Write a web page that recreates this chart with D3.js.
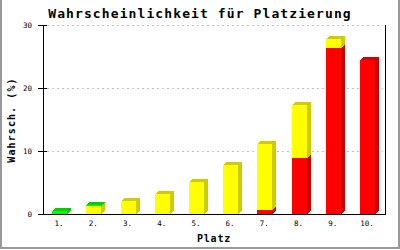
<!DOCTYPE html>
<html>
<head>
<meta charset="utf-8">
<script src="https://cdn.jsdelivr.net/npm/d3@7"></script>
<style>
  body { margin: 0; background: #fff; }
  svg { display: block; }
</style>
</head>
<body>
<script>
// data
var places = ['1.', '2.', '3.', '4.', '5.', '6.', '7.', '8.', '9.', '10.']
var green = [0.5, 0.1, 0, 0, 0, 0, 0, 0, 0, 0]
var yellow = [0, 1.3, 2.1, 3.2, 5.1, 7.7, 10.5, 8.4, 1.4, 0]
var red = [0, 0, 0, 0, 0, 0, 0.6, 8.9, 26.3, 24.4]
var yTicks = [0, 10, 20, 30]

var colors = {
  green: { front: '#00ff00', dark: '#00cc00' },
  yellow: { front: '#ffff00', dark: '#cccc00' },
  red: { front: '#ff0000', dark: '#cc0000' }
}

var W = 400, H = 250
var plotL = 43, plotR = 385, plotT = 25, plotB = 214
var dx = 4, dy = 3, barW = 15

var svg = d3.select('body').append('svg')
            .attr('width', W)
            .attr('height', H)

// frame
svg.append('path')
   .attr('d', 'M1,0 V248 H399 V0')
   .attr('fill', 'none')
   .attr('stroke', '#999')
   .attr('stroke-width', 2)

var x = d3.scaleBand().domain(places).range([plotL, plotR])
var y = d3.scaleLinear().domain([0, 30]).range([plotB, plotT])

// grid
svg.append('g').selectAll('line')
   .data(yTicks.filter(d => d > 0))
   .enter().append('line')
   .attr('x1', plotL + 4)
   .attr('x2', plotR - 2)
   .attr('y1', d => Math.round(y(d)) + 0.5)
   .attr('y2', d => Math.round(y(d)) + 0.5)
   .attr('stroke', '#c0c0c0')
   .attr('stroke-dasharray', '2,3')

// bars, stacked red at the bottom, then yellow, then green
var table = places.map((p, i) => ({ place: p, green: green[i], yellow: yellow[i], red: red[i] }))
var keys = ['red', 'yellow', 'green']
var series = d3.stack().keys(keys)(table)

var topKey = table.map(row => {
  var k = null
  keys.forEach(key => { if (row[key] > 0) k = key })
  return k
})

var bars = svg.append('g').attr('shape-rendering', 'crispEdges')

series.forEach(s => {
  var c = colors[s.key]
  s.forEach((d, i) => {
    if (d[1] - d[0] <= 0) return
    var x0 = Math.round(x(places[i]) + x.bandwidth() / 2 - 8)
    var x1 = x0 + barW
    var yt = Math.round(y(d[1]))
    var yb = Math.round(y(d[0]))

    bars.append('rect')
        .attr('x', x0)
        .attr('y', yt)
        .attr('width', barW)
        .attr('height', yb - yt)
        .attr('fill', c.front)

    bars.append('polygon')
        .attr('points', [[x1, yt], [x1 + dx, yt - dy], [x1 + dx, yb - dy], [x1, yb]].join(' '))
        .attr('fill', c.dark)

    if (topKey[i] === s.key) {
      bars.append('polygon')
          .attr('points', [[x0, yt], [x0 + dx, yt - dy], [x1 + dx, yt - dy], [x1, yt]].join(' '))
          .attr('fill', c.dark)
    }
  })
})

// axes
var axes = svg.append('g').attr('stroke', '#000').attr('shape-rendering', 'crispEdges')
axes.append('line').attr('x1', plotL + 0.5).attr('x2', plotL + 0.5).attr('y1', plotT).attr('y2', plotB)
axes.append('line').attr('x1', plotR + 0.5).attr('x2', plotR + 0.5).attr('y1', plotT).attr('y2', plotB)
axes.append('line').attr('x1', plotL).attr('x2', plotR + 1).attr('y1', plotB + 0.5).attr('y2', plotB + 0.5)

axes.selectAll('.tick')
    .data(yTicks)
    .enter().append('line')
    .attr('x1', plotL - 5)
    .attr('x2', plotL + 4)
    .attr('y1', d => Math.round(y(d)) + 0.5)
    .attr('y2', d => Math.round(y(d)) + 0.5)

svg.append('g').selectAll('text')
   .data(yTicks)
   .enter().append('text')
   .attr('x', 32)
   .attr('y', d => Math.round(y(d)) + 2.5)
   .attr('text-anchor', 'end')
   .attr('font-family', 'DejaVu Sans Mono')
   .attr('font-size', 7.5)
   .text(d => d)

svg.append('g').selectAll('text')
   .data(places)
   .enter().append('text')
   .attr('x', d => x(d) + x.bandwidth() / 2 - 1)
   .attr('y', 226)
   .attr('text-anchor', 'middle')
   .attr('font-family', 'DejaVu Sans Mono')
   .attr('font-size', 7.5)
   .text(d => d)

// titles
svg.append('text')
   .attr('x', 200)
   .attr('y', 18)
   .attr('text-anchor', 'middle')
   .attr('font-family', 'DejaVu Sans Mono')
   .attr('font-weight', 'bold')
   .attr('font-size', 13)
   .attr('letter-spacing', 1.1)
   .text('Wahrscheinlichkeit für Platzierung')

svg.append('text')
   .attr('transform', 'translate(15,120) rotate(-90)')
   .attr('text-anchor', 'middle')
   .attr('font-family', 'DejaVu Sans Mono')
   .attr('font-weight', 'bold')
   .attr('font-size', 10)
   .attr('letter-spacing', 1.1)
   .text('Wahrsch. (%)')

svg.append('text')
   .attr('x', 214)
   .attr('y', 242)
   .attr('text-anchor', 'middle')
   .attr('font-family', 'DejaVu Sans Mono')
   .attr('font-weight', 'bold')
   .attr('font-size', 10)
   .attr('letter-spacing', 0.8)
   .text('Platz')
</script>
</body>
</html>
